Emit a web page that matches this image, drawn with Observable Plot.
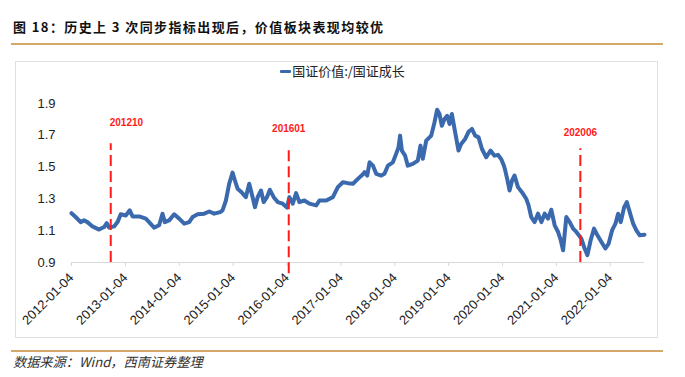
<!DOCTYPE html>
<html>
<head>
<meta charset="utf-8">
<script src="https://cdn.jsdelivr.net/npm/d3@7"></script>
<script src="https://cdn.jsdelivr.net/npm/@observablehq/plot@0.6"></script>
<style>
  html, body { margin: 0; padding: 0; background: #fff; }
  #page { position: relative; width: 685px; height: 377px; overflow: hidden; background: #fff; }
  #title { position: absolute; left: 13px; top: 19px; font-family: "Noto Sans CJK SC", sans-serif; font-weight: bold; font-size: 13px; letter-spacing: 1.4px; color: #111; white-space: nowrap; line-height: 16px; }
  .rule { position: absolute; left: 11px; width: 652px; height: 2px; background: #d4a76a; }
  #box { position: absolute; left: 15px; top: 61px; width: 641px; height: 275px; border: 1px solid #e0e0e0; }
  #legend { position: absolute; left: 0; width: 685px; top: 62px; text-align: center; font-family: "Noto Sans CJK SC", sans-serif; font-size: 13px; color: #222; line-height: 18px; padding-left: 0; }
  #legend .sw { display: inline-block; width: 11px; height: 3px; background: #3b69ad; vertical-align: middle; margin-right: 1px; position: relative; top: -1px; border-radius: 1px; }
  #chart { position: absolute; left: 0; top: 48px; }
  #source { position: absolute; left: 13px; top: 354px; font-family: "Noto Sans CJK SC", sans-serif; font-style: italic; font-size: 13.2px; color: #333; white-space: nowrap; line-height: 16px; }
</style>
</head>
<body>
<div id="page">
  <div id="title">图 18：历史上 3 次同步指标出现后，价值板块表现均较优</div>
  <div class="rule" style="top:43px"></div>
  <div id="box"></div>
  <div id="chart"></div>
  <div id="legend"><span class="sw"></span>国证价值:/国证成长</div>
  <div class="rule" style="top:350px"></div>
  <div id="source">数据来源：Wind，西南证券整理</div>
</div>
<script>
// Series: 国证价值/国证成长 ratio
const dates = [
  "2012-01-04","2012-02-01","2012-03-06","2012-03-29","2012-04-21","2012-05-25","2012-07-09","2012-08-12","2012-08-30","2012-09-15",
  "2012-10-19","2012-11-11","2012-12-03","2013-01-06","2013-02-02","2013-02-21","2013-04-07","2013-05-22","2013-06-13","2013-07-17",
  "2013-08-20","2013-09-12","2013-09-28","2013-10-27","2013-11-30","2014-01-03","2014-02-06","2014-03-12","2014-04-04","2014-05-08",
  "2014-06-22","2014-07-26","2014-08-28","2014-10-08","2014-10-24","2014-11-16","2014-12-08","2014-12-31","2015-01-16","2015-02-03",
  "2015-03-02","2015-03-31","2015-04-23","2015-05-16","2015-06-01","2015-06-19","2015-07-12","2015-07-30","2015-08-21","2015-09-10",
  "2015-10-06","2015-11-02","2015-12-06","2016-01-04","2016-01-20","2016-02-12","2016-03-06","2016-03-28","2016-05-01","2016-06-04",
  "2016-07-20","2016-08-11","2016-09-26","2016-11-10","2016-12-14","2017-01-17","2017-02-20","2017-03-26","2017-04-29","2017-06-02",
  "2017-06-13","2017-07-01","2017-07-17","2017-08-09","2017-08-31","2017-10-04","2017-10-26","2017-11-18","2017-12-22","2018-01-13",
  "2018-01-29","2018-02-09","2018-02-21","2018-03-15","2018-04-02","2018-05-06","2018-06-09","2018-06-27","2018-07-13","2018-08-05",
  "2018-09-08","2018-09-30","2018-10-18","2018-11-03","2018-11-19","2018-12-07","2018-12-25","2019-01-10","2019-01-26","2019-02-13",
  "2019-03-12","2019-03-30","2019-04-26","2019-05-19","2019-06-11","2019-07-03","2019-07-26","2019-08-18","2019-09-16","2019-10-15",
  "2019-11-11","2019-12-04","2019-12-27","2020-01-14","2020-01-23","2020-02-05","2020-02-21","2020-03-09","2020-03-26","2020-04-18",
  "2020-05-15","2020-06-13","2020-06-29","2020-07-17","2020-08-09","2020-09-01","2020-09-24","2020-10-16","2020-11-08","2020-11-30",
  "2020-12-23","2021-01-15","2021-02-02","2021-02-18","2021-03-12","2021-04-04","2021-04-27","2021-05-19","2021-06-22","2021-07-14",
  "2021-08-02","2021-08-24","2021-09-16","2021-10-09","2021-11-05","2021-12-02","2021-12-24","2022-01-16","2022-02-08","2022-02-26",
  "2022-03-16","2022-04-08","2022-04-26","2022-05-16","2022-06-08","2022-06-30","2022-07-23","2022-08-24"
];
const values = [
  1.210,1.186,1.154,1.165,1.154,1.127,1.107,1.123,1.148,1.119,
  1.127,1.154,1.203,1.196,1.228,1.190,1.190,1.176,1.154,1.119,
  1.134,1.207,1.154,1.165,1.203,1.176,1.144,1.154,1.186,1.203,
  1.207,1.221,1.207,1.217,1.228,1.290,1.395,1.465,1.416,1.364,
  1.342,1.311,1.395,1.311,1.248,1.311,1.353,1.280,1.311,1.357,
  1.311,1.280,1.270,1.245,1.311,1.270,1.336,1.280,1.290,1.270,
  1.259,1.290,1.290,1.311,1.374,1.405,1.399,1.395,1.426,1.455,
  1.468,1.447,1.530,1.509,1.458,1.447,1.458,1.509,1.530,1.583,
  1.624,1.698,1.604,1.572,1.509,1.520,1.541,1.635,1.552,1.666,
  1.698,1.781,1.861,1.834,1.760,1.802,1.823,1.771,1.834,1.740,
  1.604,1.646,1.677,1.722,1.740,1.698,1.687,1.614,1.562,1.604,
  1.572,1.577,1.550,1.509,1.478,1.426,1.353,1.416,1.447,1.374,
  1.342,1.301,1.259,1.186,1.154,1.207,1.154,1.207,1.176,1.232,
  1.134,1.092,1.040,0.977,1.186,1.154,1.113,1.092,1.050,0.988,
  0.946,1.040,1.113,1.071,1.029,0.988,1.019,1.102,1.144,1.207,
  1.154,1.248,1.280,1.217,1.144,1.102,1.071,1.075
];
const xTickLabels = ["2012-01-04","2013-01-04","2014-01-04","2015-01-04","2016-01-04","2017-01-04","2018-01-04","2019-01-04","2020-01-04","2021-01-04","2022-01-04"];
const yTicks = [0.9, 1.1, 1.3, 1.5, 1.7, 1.9];
// Marked signal dates (label, where drawn, rule top / label height in data units)
const eventLabels = ["201210", "201601", "202006"];
const eventDates = ["2012-09-26", "2016-01-16", "2021-06-15"];
const eventTop = [1.647, 1.618, 1.616];
const eventBottom = [0.9, 0.83, 0.9];
const eventLabelY = [1.779, 1.741, 1.716];

const parse = d3.utcParse("%Y-%m-%d");
const series = dates.map((d, i) => ({date: parse(d), value: values[i]}));
const events = eventLabels.map((l, i) => ({label: l, date: parse(eventDates[i]), top: eventTop[i], bottom: eventBottom[i], ly: eventLabelY[i]}));
const xTicks = xTickLabels.map(parse);

const chart = Plot.plot({
  width: 685,
  height: 297,
  marginLeft: 71,
  marginRight: 41,
  marginTop: 55,
  marginBottom: 83,
  style: {fontFamily: "'Liberation Sans', Arial, sans-serif", fontSize: "13px", color: "#222", background: "transparent", overflow: "visible"},
  x: {type: "utc", domain: [series[0].date, series[series.length - 1].date]},
  y: {domain: [0.9, 1.9]},
  marks: [
    Plot.ruleY([0.9], {stroke: "#d9d9d9", strokeWidth: 1}),
    Plot.axisY({ticks: yTicks, tickFormat: d => d.toFixed(1), tickSize: 0, tickPadding: 16, label: null, fill: "#222"}),
    Plot.axisX({ticks: xTicks, tickFormat: d3.utcFormat("%Y-%m-%d"), tickRotate: -45, tickSize: 4, tickPadding: 9, stroke: "#d9d9d9", fill: "#222", label: null}),
    Plot.line(series, {x: "date", y: "value", stroke: "#3b69ad", strokeWidth: 4, strokeLinejoin: "round", curve: "linear"}),
    Plot.ruleX(events, {x: "date", y1: "bottom", y2: "top", stroke: "#ff1a1a", strokeWidth: 2, strokeDasharray: "11,5"}),
    Plot.text(events.slice(0, 1), {x: "date", y: "ly", text: "label", fill: "#ff1a1a", fontWeight: "bold", fontSize: 10, textAnchor: "start", dx: -1}),
    Plot.text(events.slice(1), {x: "date", y: "ly", text: "label", fill: "#ff1a1a", fontWeight: "bold", fontSize: 10, textAnchor: "middle"})
  ]
});
document.getElementById("chart").appendChild(chart);
</script>
</body>
</html>
